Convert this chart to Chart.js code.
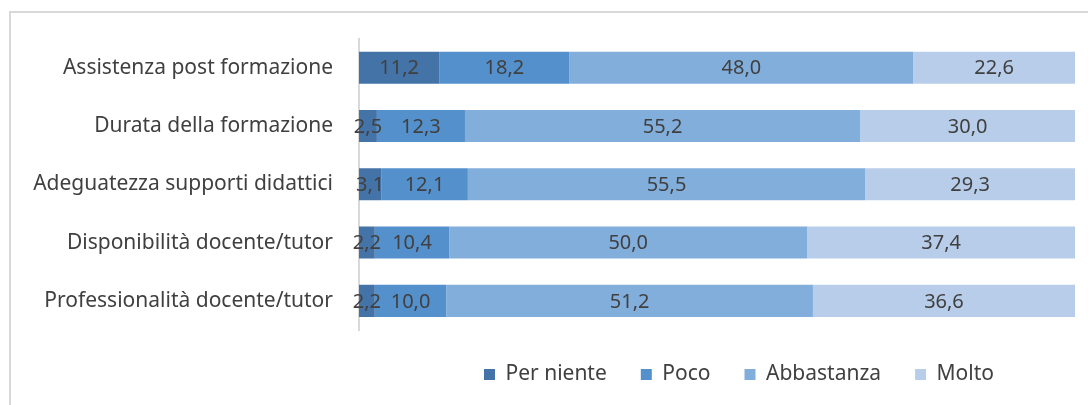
<!DOCTYPE html>
<html>
<head>
<meta charset="utf-8">
<script src="https://cdn.jsdelivr.net/npm/chart.js@4.4.1/dist/chart.umd.min.js"></script>
<style>
  body { margin: 0; background: #fff; overflow: hidden; }
  #frame { position: absolute; left: 9px; top: 11px; width: 1200px; height: 500px; border: 2px solid #d9d9d9; }
  #wrap { position: absolute; left: 0; top: 0; width: 1088px; height: 405px; }
</style>
</head>
<body>
<div id="frame"></div>
<div id="wrap"><canvas id="myChart"></canvas></div>
<script>
const categorie = ['Assistenza post formazione', 'Durata della formazione', 'Adeguatezza supporti didattici', 'Disponibilità docente/tutor', 'Professionalità docente/tutor'];
const perNiente = [11.2, 2.5, 3.1, 2.2, 2.2];
const poco = [18.2, 12.3, 12.1, 10.4, 10.0];
const abbastanza = [48.0, 55.2, 55.5, 50.0, 51.2];
const molto = [22.6, 30.0, 29.3, 37.4, 36.6];

const font = "'Noto Sans', sans-serif";

// etichette dei valori al centro di ogni segmento
const etichette = {
    id: 'etichette',
    afterDatasetsDraw(chart) {
        const c = chart.ctx;
        c.save();
        c.font = '20px ' + font;
        c.fillStyle = '#404040';
        c.textAlign = 'center';
        c.textBaseline = 'middle';
        chart.data.datasets.forEach((ds, i) => {
            chart.getDatasetMeta(i).data.forEach((bar, j) => {
                let v = ds.data[j].toFixed(1).replace('.', ',');
                c.fillText(v, (bar.x + bar.base) / 2, bar.y + 1);
            });
        });
        c.restore();
    }
};

// sposta la legenda un po' a destra come nell'originale
const spostaLegenda = {
    id: 'spostaLegenda',
    afterLayout(chart) {
        const lg = chart.legend;
        const w = lg.right - lg.left;
        lg.left = chart.chartArea.left + 22;
        lg.right = lg.left + w;
    }
};

const ctx = document.getElementById('myChart');
var myChart = new Chart(ctx, {
    type: 'bar',
    data: {
        labels: categorie,
        datasets: [
            { label: 'Per niente', data: perNiente, backgroundColor: '#4473a8' },
            { label: 'Poco', data: poco, backgroundColor: '#5490cb' },
            { label: 'Abbastanza', data: abbastanza, backgroundColor: '#82aedc' },
            { label: 'Molto', data: molto, backgroundColor: '#b7cde9' }
        ]
    },
    options: {
        indexAxis: 'y',
        responsive: true,
        maintainAspectRatio: false,
        animation: false,
        layout: { padding: { top: 38, right: 13, left: 0, bottom: 10 } },
        barPercentage: 0.55,
        categoryPercentage: 1,
        scales: {
            x: { stacked: true, display: false, min: 0, max: 100 },
            y: {
                stacked: true,
                grid: { display: false, drawTicks: false },
                border: { display: true, color: '#d9d9d9', width: 2 },
                ticks: { color: '#404040', font: { family: font, size: 21 }, padding: 26 },
                afterFit(scale) { scale.width = 359; }
            }
        },
        plugins: {
            legend: {
                position: 'bottom',
                fullSize: false,
                labels: {
                    color: '#404040',
                    font: { family: font, size: 21 },
                    boxWidth: 11,
                    boxHeight: 11,
                    padding: 34
                }
            },
            tooltip: { enabled: false }
        }
    },
    plugins: [etichette, spostaLegenda]
});
</script>
</body>
</html>
